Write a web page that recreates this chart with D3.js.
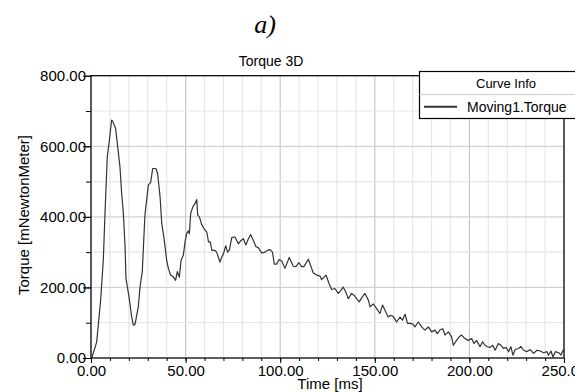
<!DOCTYPE html>
<html><head><meta charset="utf-8">
<script src="https://cdn.jsdelivr.net/npm/d3@7"></script>
<style>
html,body{margin:0;padding:0;background:#fff;}
svg{display:block;font-family:Arial,"Liberation Sans",sans-serif;}
</style></head>
<body><svg id="c" width="575" height="392"></svg>
<script>
const timeMs = [0.4,3.0,5.1,6.5,7.4,8.6,9.7,10.9,11.4,13.0,14.1,15.3,16.2,17.1,18.0,18.5,20.1,21.5,22.4,23.3,25.0,25.9,27.1,28.5,30.3,31.5,32.6,34.3,35.2,36.5,37.4,38.6,40.0,40.9,42.1,43.5,44.7,45.6,46.7,47.6,48.8,49.7,50.6,51.5,52.0,52.7,53.8,55.0,55.9,56.4,57.3,58.5,59.8,61.2,62.1,63.0,63.9,65.5,66.4,68.2,69.1,70.0,71.2,72.2,73.1,74.4,76.1,77.9,79.3,80.6,81.8,83.2,84.4,85.8,87.1,88.5,90.2,92.0,93.3,94.7,95.9,96.9,98.1,99.4,100.8,102.5,104.8,106.9,108.3,109.9,111.3,112.5,114.9,116.3,117.5,119.3,121.1,121.9,124.2,125.8,127.2,128.9,130.7,132.0,133.3,134.6,136.0,137.7,139.0,140.4,141.8,143.1,144.8,146.6,147.5,149.2,151.0,152.7,154.1,155.3,157.1,158.3,159.7,161.5,163.3,164.6,166.0,167.3,168.7,170.1,171.2,173.0,174.8,176.5,178.3,180.0,181.8,183.1,184.5,185.9,187.1,188.9,190.6,191.5,193.2,194.6,195.9,197.6,199.4,201.2,202.4,203.8,205.6,207.0,208.2,209.5,210.9,212.3,213.6,215.3,216.7,218.0,219.4,220.7,221.9,223.0,224.2,226.0,227.2,228.6,230.4,232.1,233.9,235.7,237.4,239.2,241.0,241.8,243.1,244.2,245.4,247.2,248.4,249.5,250.0];
const torque = [0,45,164,277,410,570,617,674,672,651,599,542,466,410,315,225,173,116,93,96,145,201,244,405,490,497,537,537,523,457,381,339,277,254,235,230,220,245,229,277,291,329,353,360,352,410,428,438,449,405,400,378,366,357,329,329,305,305,300,272,286,295,318,300,305,341,343,324,333,338,320,338,350,333,316,312,298,300,305,307,300,266,266,279,275,254,285,260,259,270,259,259,280,259,241,235,232,222,235,211,194,197,183,191,201,188,168,183,178,168,159,171,183,164,145,153,140,126,150,136,116,121,118,102,116,107,124,98,98,96,88,102,88,79,88,74,79,69,80,83,65,74,60,36,50,60,65,55,50,55,41,50,32,46,36,32,30,36,22,41,36,27,30,18,32,8,24,27,33,22,18,24,13,22,20,15,18,8,20,3,18,15,8,22,20];
const xTicks = [0,50,100,150,200,250];
const yTicks = [0,200,400,600,800];
const xMinor = d3.range(0,251,10);
const yMinor = d3.range(0,801,100);
const seriesName = "Moving1.Torque";

const svg = d3.select("#c");
const L=91, T=75.7, R=564, B=358;
const x = d3.scaleLinear().domain([0,250]).range([L,R]);
const y = d3.scaleLinear().domain([0,800]).range([B,T]);

// grid
const g = svg.append("g");
g.selectAll(".vx").data(xMinor).join("line")
  .attr("x1",d=>x(d)).attr("x2",d=>x(d)).attr("y1",T).attr("y2",B)
  .attr("stroke",d=>d%50===0?"#c8c8c8":"#e6e6e6").attr("stroke-width",1.2);
g.selectAll(".hy").data(yMinor).join("line")
  .attr("x1",L).attr("x2",R).attr("y1",d=>y(d)).attr("y2",d=>y(d))
  .attr("stroke",d=>d%200===0?"#d2d2d2":"#e6e6e6").attr("stroke-width",1.2);

// curve
const pts = timeMs.map((t,i)=>[t,torque[i]]);
svg.append("path").datum(pts)
  .attr("fill","none").attr("stroke","#333").attr("stroke-width",1.2)
  .attr("stroke-linejoin","round")
  .attr("d",d3.line().x(d=>x(d[0])).y(d=>y(d[1])));

// frame
svg.append("rect").attr("x",L).attr("y",T).attr("width",R-L).attr("height",B-T)
  .attr("fill","none").attr("stroke","#000").attr("stroke-width",1.2);

// x axis
const xa = svg.append("g").attr("transform",`translate(0,${B})`)
  .call(d3.axisBottom(x).tickValues(xMinor).tickSize(3).tickFormat(""));
xa.select(".domain").remove();
const xb = svg.append("g").attr("transform",`translate(0,${B})`)
  .call(d3.axisBottom(x).tickValues(xTicks).tickSize(5).tickPadding(2).tickFormat(d3.format(".2f")));
xb.select(".domain").remove();
xb.selectAll("text").attr("font-size",15).attr("fill","#000").attr("font-family","Arial,'Liberation Sans',sans-serif");

// y axis
const ya = svg.append("g").attr("transform",`translate(${L},0)`)
  .call(d3.axisLeft(y).tickValues(yMinor).tickSize(5).tickFormat(""));
ya.select(".domain").remove();
const yb = svg.append("g").attr("transform",`translate(${L},0)`)
  .call(d3.axisLeft(y).tickValues(yTicks).tickSize(8).tickPadding(-3).tickFormat(d3.format(".2f")));
yb.select(".domain").remove();
yb.selectAll("text").attr("font-size",15).attr("fill","#000").attr("font-family","Arial,'Liberation Sans',sans-serif");

// titles
svg.append("text").attr("x",265).attr("y",33).attr("text-anchor","middle")
  .attr("font-family","'Liberation Serif','Times New Roman',serif").attr("font-style","italic")
  .attr("font-size",26).text("a)");
svg.append("text").attr("x",271).attr("y",66).attr("text-anchor","middle")
  .attr("font-size",14).text("Torque 3D");
svg.append("text").attr("x",330).attr("y",389).attr("text-anchor","middle")
  .attr("font-size",15).text("Time [ms]");
svg.append("text").attr("transform","translate(29,215) rotate(-90)").attr("text-anchor","middle")
  .attr("font-size",15).text("Torque [mNewtonMeter]");

// legend
const lg = svg.append("g");
lg.append("rect").attr("x",419.5).attr("y",71.5).attr("width",160).attr("height",47)
  .attr("fill","#fff").attr("stroke","#000").attr("stroke-width",1.2);
lg.append("line").attr("x1",419.5).attr("x2",575).attr("y1",94.5).attr("y2",94.5).attr("stroke","#ccc");
lg.append("text").attr("x",506).attr("y",88).attr("text-anchor","middle").attr("font-size",13).text("Curve Info");
lg.append("line").attr("x1",424).attr("x2",457).attr("y1",106.7).attr("y2",106.7).attr("stroke","#333").attr("stroke-width",2);
lg.append("text").attr("x",467).attr("y",112).attr("font-size",14).text(seriesName);
</script></body></html>
